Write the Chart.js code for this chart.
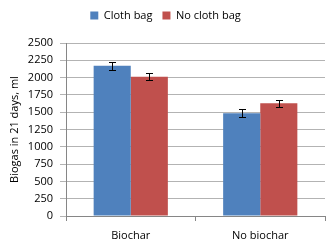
<!DOCTYPE html>
<html>
<head>
<meta charset="utf-8">
<script src="https://cdn.jsdelivr.net/npm/chart.js@4"></script>
<style>
  html, body { margin: 0; padding: 0; background: #fff; }
  #wrap { width: 326px; height: 245px; }
</style>
</head>
<body>
<div id="wrap"><canvas id="biogas-chart"></canvas></div>
<script>
var categories = ['Biochar', 'No biochar'];
var clothBag = [2171, 1486];
var noClothBag = [2014, 1629];
var clothBagErr = [57, 55];
var noClothBagErr = [50, 50];
var yTicks = [0, 250, 500, 750, 1000, 1250, 1500, 1750, 2000, 2250, 2500];

// draws the little I-shaped error bars on top of each bar
var errorBars = {
  id: 'errorBars',
  afterDatasetsDraw: function(chart) {
    var c = chart.ctx;
    var y = chart.scales.y;
    c.save();
    c.strokeStyle = '#000';
    c.lineWidth = 1;
    chart.data.datasets.forEach(function(ds, i) {
      var meta = chart.getDatasetMeta(i);
      meta.data.forEach(function(bar, j) {
        var v = ds.data[j], e = ds.errors[j];
        var x = Math.round(bar.x) + 0.5;
        var top = Math.round(y.getPixelForValue(v + e)) + 0.5;
        var bot = Math.round(y.getPixelForValue(v - e)) + 0.5;
        c.beginPath();
        c.moveTo(x, top); c.lineTo(x, bot);
        c.moveTo(x - 3.5, top); c.lineTo(x + 3.5, top);
        c.moveTo(x - 3.5, bot); c.lineTo(x + 3.5, bot);
        c.stroke();
      });
    });
    c.restore();
  }
};

// extra room under the legend, like the original
var legendGap = {
  id: 'legendGap',
  beforeInit: function(chart) {
    var fit = chart.legend.fit;
    chart.legend.fit = function() {
      fit.bind(chart.legend)();
      this.height += 12;
    };
  }
};

Chart.defaults.font.family = '"Open Sans", sans-serif';
Chart.defaults.font.size = 10;
Chart.defaults.color = '#000';

var ctx = document.getElementById('biogas-chart').getContext('2d');
var chart = new Chart(ctx, {
  type: 'bar',
  data: {
    labels: categories,
    datasets: [
      { label: 'Cloth bag', data: clothBag, errors: clothBagErr, backgroundColor: '#4f81bd' },
      { label: 'No cloth bag', data: noClothBag, errors: noClothBagErr, backgroundColor: '#c0504d' }
    ]
  },
  options: {
    responsive: true,
    maintainAspectRatio: false,
    animation: false,
    layout: { padding: { left: 6, right: 1, top: 0, bottom: 0 } },
    datasets: { bar: { categoryPercentage: 0.573, barPercentage: 1 } },
    plugins: {
      tooltip: { enabled: false },
      legend: {
        position: 'top',
        labels: { boxWidth: 8, boxHeight: 8, padding: 10, font: { size: 11 } }
      }
    },
    scales: {
      x: {
        grid: { offset: true, drawOnChartArea: false, drawTicks: true, tickLength: 5, color: '#868686' },
        border: { color: '#868686' },
        ticks: { font: { size: 11 }, padding: 8 },
        afterFit: function(axis) { axis.height = 29; }
      },
      y: {
        min: 0,
        max: 2500,
        afterBuildTicks: function(axis) {
          axis.ticks = yTicks.map(function(v) { return { value: v }; });
        },
        grid: { color: '#b3b3b3', tickLength: 6 },
        border: { color: '#868686' },
        ticks: { font: { size: 11 }, padding: 7, callback: function(v) { return String(v); } },
        title: { display: true, text: 'Biogas in 21 days, ml', font: { size: 11 }, padding: 2 },
        afterFit: function(axis) { axis.width = 60; }
      }
    }
  },
  plugins: [errorBars, legendGap]
});
</script>
</body>
</html>
